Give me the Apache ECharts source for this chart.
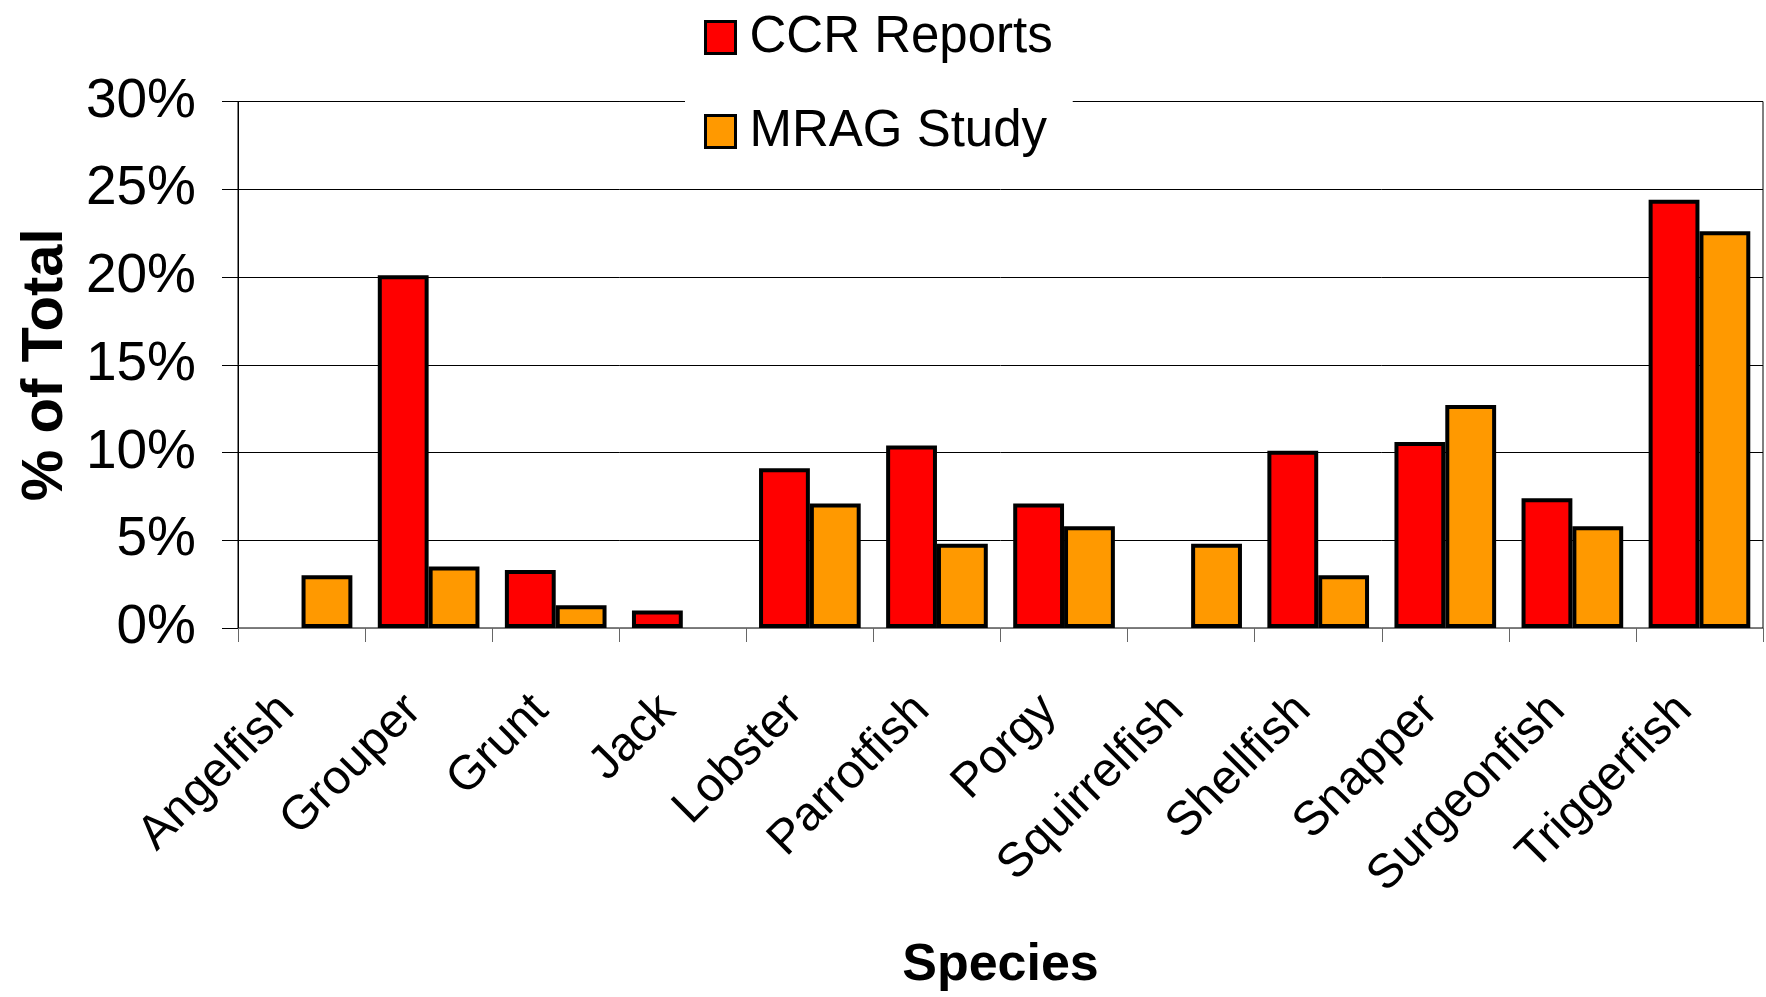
<!DOCTYPE html>
<html>
<head>
<meta charset="utf-8">
<script src="https://cdn.jsdelivr.net/npm/echarts@6/dist/echarts.min.js"></script>
<style>
html,body{margin:0;padding:0;background:#fff;}
#chart{width:1766px;height:997px;}
</style>
</head>
<body>
<div id="chart"></div>
<script>
const categories = ['Angelfish','Grouper','Grunt','Jack','Lobster','Parrotfish','Porgy','Squirrelfish','Shellfish','Snapper','Surgeonfish','Triggerfish'];
const ccrReports = [0, 20.1, 3.3, 1.0, 9.1, 10.4, 7.1, 0, 10.1, 10.6, 7.4, 24.4];
const mragStudy  = [3.0, 3.5, 1.3, 0, 7.1, 4.8, 5.8, 4.8, 3.0, 12.7, 5.8, 22.6];
const yTicks = [0, 5, 10, 15, 20, 25, 30];

const FONT = '"Liberation Sans", Arial, sans-serif';
const toData = arr => arr.map(v => v === 0 ? '-' : v);

const chart = echarts.init(document.getElementById('chart'), null, {renderer: 'canvas'});
chart.setOption({
  animation: false,
  backgroundColor: '#fff',
  grid: {
    left: 238, right: 3, top: 101.5, bottom: 366,
    show: true, borderColor: '#000', borderWidth: 1, backgroundColor: 'transparent'
  },
  legend: {
    orient: 'vertical',
    left: 685, top: 0,
    backgroundColor: '#fff',
    padding: [12, 20, 12, 19],
    itemWidth: 30, itemHeight: 32, itemGap: 43,
    icon: 'rect',
    itemStyle: {borderColor: '#000', borderWidth: 3},
    textStyle: {fontFamily: FONT, fontSize: 51, color: '#000', lineHeight: 50, padding: [0, 0, 0, 9]},
    data: ['CCR Reports', 'MRAG Study'],
    z: 10
  },
  xAxis: {
    type: 'category',
    data: categories,
    boundaryGap: true,
    name: 'Species',
    nameLocation: 'middle',
    nameGap: 312,
    nameTextStyle: {fontFamily: FONT, fontSize: 52, fontWeight: 'bold', color: '#000'},
    axisLine: {show: true, lineStyle: {color: '#777', width: 1}},
    axisTick: {show: true, interval: 0, length: 14, alignWithLabel: false, lineStyle: {color: '#666', width: 1}},
    axisLabel: {
      interval: 0, rotate: 45, margin: 60,
      fontFamily: FONT, fontSize: 48, color: '#000',
      padding: [0, 21, 0, 0]
    },
    splitLine: {show: false}
  },
  yAxis: {
    type: 'value',
    min: yTicks[0], max: yTicks[yTicks.length - 1], interval: yTicks[1] - yTicks[0],
    name: '% of Total',
    nameLocation: 'middle',
    nameRotate: 90,
    nameGap: 163,
    nameTextStyle: {fontFamily: FONT, fontSize: 58, fontWeight: 'bold', color: '#000'},
    axisLine: {show: true, lineStyle: {color: '#000', width: 1}},
    axisTick: {show: true, length: 16, lineStyle: {color: '#000', width: 1}},
    axisLabel: {
      margin: 42, formatter: '{value}%',
      fontFamily: FONT, fontSize: 55, color: '#000'
    },
    splitLine: {show: true, lineStyle: {color: '#000', width: 1}}
  },
  series: [
    {
      name: 'CCR Reports', type: 'bar', data: toData(ccrReports),
      barGap: '0%', barCategoryGap: '20%',
      itemStyle: {color: '#FF0000', borderColor: '#000', borderWidth: 4}
    },
    {
      name: 'MRAG Study', type: 'bar', data: toData(mragStudy),
      barGap: '0%', barCategoryGap: '20%',
      itemStyle: {color: '#FF9900', borderColor: '#000', borderWidth: 4}
    }
  ]
});
</script>
</body>
</html>
